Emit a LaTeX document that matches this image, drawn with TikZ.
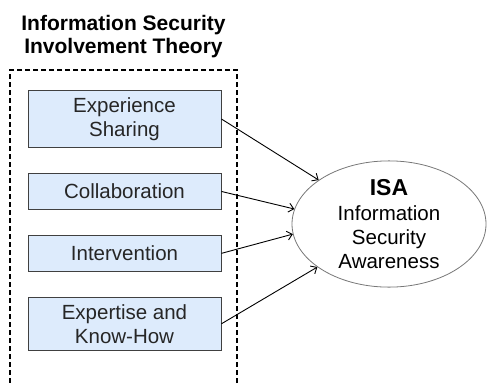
\documentclass[tikz,border=0pt]{standalone}
\usepackage{fontspec}
\setmainfont{Liberation Sans}
\usetikzlibrary{positioning,shapes.geometric,arrows.meta}

\definecolor{factorfill}{RGB}{221,235,252}
\definecolor{factordraw}{RGB}{64,64,64}
\definecolor{isadraw}{RGB}{120,120,120}

\begin{document}
\begin{tikzpicture}[x=1pt, y=1pt, node distance=25pt, font=\fontsize{20.5}{24}\selectfont]
% Define styles
\tikzstyle{factor} = [rectangle, draw=factordraw, line width=0.9pt, fill=factorfill, text=black!85, align=center, inner sep=7pt, minimum width=193pt, minimum height=36pt]
\tikzstyle{theory} = [rectangle, draw=black, line width=1.5pt, dash pattern=on 5pt off 3pt, minimum width=227pt, minimum height=318pt, inner sep=0pt]
\tikzstyle{outcome} = [ellipse, draw=isadraw, line width=0.8pt, fill=white, align=center, minimum width=194pt, minimum height=118pt, inner sep=0pt]
\tikzstyle{arrow} = [-{Straight Barb[length=5pt, width=9pt]}, line width=0.9pt, draw=black]

\useasboundingbox (0,0) rectangle (487,-383);

% Theory frame and its title
\node[theory] (Theory) at (123.5,-229) {};
\node[font=\bfseries\fontsize{21}{23}\selectfont, align=center] (TheoryTitle) at (123.5,-37) {Information Security\\Involvement Theory};

% Define nodes (involvement factors)
\node[factor] (ExperienceSharing) at (124.5,-119) {Experience\\Sharing};
\node[factor, below=of ExperienceSharing] (Collaboration) {Collaboration};
\node[factor, below=of Collaboration] (Intervention) {Intervention};
\node[factor, below=of Intervention] (ExpertiseKnowHow) {Expertise and\\Know-How};

% Define outcome node
\node[outcome] (ISA) at (389,-224) {{\bfseries\fontsize{23}{25}\selectfont ISA}\\[1pt]Information\\Security\\Awareness};

% Relationships (arrows)
\draw[arrow] (ExperienceSharing.east) -- (ISA.148);
\draw[arrow] (Collaboration.east) -- (ISA.171);
\draw[arrow] (Intervention.east) -- (ISA.186);
\draw[arrow] (ExpertiseKnowHow.east) -- (ISA.211);

\end{tikzpicture}
\end{document}
